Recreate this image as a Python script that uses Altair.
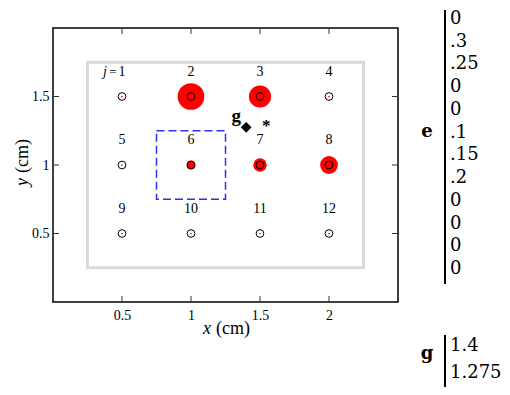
import altair as alt
import pandas as pd

# ---- data ----
x_pos = [0.5, 1, 1.5, 2, 0.5, 1, 1.5, 2, 0.5, 1, 1.5, 2]
y_pos = [1.5, 1.5, 1.5, 1.5, 1, 1, 1, 1, 0.5, 0.5, 0.5, 0.5]
j_ids = list(range(1, 13))
e_vals = [0, 0.3, 0.25, 0, 0, 0.1, 0.15, 0.2, 0, 0, 0, 0]
e_text = ["0", ".3", ".25", "0", "0", ".1", ".15", ".2", "0", "0", "0", "0"]
g_vals = [1.4, 1.275]
g_text = ["1.4", "1.275"]
x_ticks = [0.5, 1, 1.5, 2]
y_ticks = [0.5, 1, 1.5]
gray_box = [0.25, 2.25, 0.25, 1.75]
blue_box = [0.75, 1.25, 0.75, 1.25]

W, H = 345, 274
SERIF = "Liberation Serif"
TSERIF = "DejaVu Serif"

xs = alt.Scale(domain=[0, 2.5], nice=False, zero=False)
ys = alt.Scale(domain=[0, 2], nice=False, zero=False)
xaxis = alt.Axis(values=x_ticks, format="~g", title=None, grid=False, ticks=False,
                 tickSize=0, domain=False, labelPadding=6,
                 labelFont=SERIF, labelFontSize=14, labelColor="black")
yaxis = alt.Axis(values=y_ticks, format="~g", title=None, grid=False, ticks=False,
                 tickSize=0, domain=False, labelPadding=4,
                 labelFont=SERIF, labelFontSize=14, labelColor="black")


def xenc(f):
    return alt.X(f, type="quantitative", scale=xs, axis=xaxis)


def yenc(f):
    return alt.Y(f, type="quantitative", scale=ys, axis=yaxis)


pts = pd.DataFrame({"x": x_pos, "y": y_pos, "j": j_ids, "e": e_vals})


def box_df(b):
    return pd.DataFrame({"x1": [b[0]], "x2": [b[1]], "y1": [b[2]], "y2": [b[3]]})


gray = alt.Chart(box_df(gray_box)).mark_rect(fill="transparent", stroke="#dadada", strokeWidth=3).encode(
    x=xenc("x1"), x2="x2", y=yenc("y1"), y2="y2")
blue = alt.Chart(box_df(blue_box)).mark_rect(fill="transparent", stroke="#2f2ff0", strokeWidth=1.5,
                                             strokeDash=[8, 4]).encode(
    x=xenc("x1"), x2="x2", y=yenc("y1"), y2="y2")

red = alt.Chart(pts).transform_calculate(e2="datum.e*datum.e").mark_circle(color="red", opacity=1).encode(
    x=xenc("x"), y=yenc("y"),
    size=alt.Size("e2:Q", scale=alt.Scale(domain=[0, 0.09], range=[3, 710]), legend=None))
ring = alt.Chart(pts).mark_point(shape="circle", filled=False, color="black", strokeWidth=1, size=60,
                                 opacity=1).encode(x=xenc("x"), y=yenc("y"))
nums = alt.Chart(pts).mark_text(dy=-25, font=SERIF, fontSize=14, color="black").encode(
    x=xenc("x"), y=yenc("y"), text="j:N")
jlab = alt.Chart(pts.iloc[[0]]).mark_text(dx=-17, dy=-25, font=SERIF, fontSize=14, fontStyle="italic",
                                          color="black").encode(x=xenc("x"), y=yenc("y"), text=alt.value("j"))
eqlab = alt.Chart(pts.iloc[[0]]).mark_text(dx=-9, dy=-25, font=SERIF, fontSize=13, color="black").encode(
    x=xenc("x"), y=yenc("y"), text=alt.value("="))

gdf = pd.DataFrame({"gx": [g_vals[0]], "gy": [g_vals[1]]})
gpt = alt.Chart(gdf).mark_point(shape="diamond", filled=True, color="black", size=115, opacity=1).encode(
    x=xenc("gx"), y=yenc("gy"))
glab = alt.Chart(gdf).mark_text(dx=-10, dy=-11, font=SERIF, fontSize=19, fontWeight="bold",
                                color="black").encode(x=xenc("gx"), y=yenc("gy"), text=alt.value("g"))
star = alt.Chart(gdf).mark_text(dx=20, dy=-1, font=SERIF, fontSize=17, fontWeight="bold",
                                color="black").encode(x=xenc("gx"), y=yenc("gy"), text=alt.value("*"))

xt = pd.DataFrame({"t": x_ticks})
yt = pd.DataFrame({"t": y_ticks})
tb = alt.Chart(xt).mark_rule(color="#333", strokeWidth=1).encode(x=xenc("t"), y=alt.value(H), y2=alt.value(H - 6))
tt = alt.Chart(xt).mark_rule(color="#333", strokeWidth=1).encode(x=xenc("t"), y=alt.value(0), y2=alt.value(6))
tl = alt.Chart(yt).mark_rule(color="#333", strokeWidth=1).encode(y=yenc("t"), x=alt.value(0), x2=alt.value(6))
tr = alt.Chart(yt).mark_rule(color="#333", strokeWidth=1).encode(y=yenc("t"), x=alt.value(W), x2=alt.value(W - 6))

# axis titles (italic variable + roman unit)
one = pd.DataFrame({"k": [0]})
xt_var = alt.Chart(one).mark_text(align="left", baseline="alphabetic", font=SERIF, fontSize=18,
                                  fontStyle="italic", color="black").encode(
    x=alt.value(150), y=alt.value(306), text=alt.value("x"))
xt_unit = alt.Chart(one).mark_text(align="left", baseline="alphabetic", font=SERIF, fontSize=18,
                                   color="black").encode(
    x=alt.value(163), y=alt.value(306), text=alt.value("(cm)"))
yt_var = alt.Chart(one).mark_text(align="left", baseline="alphabetic", font=SERIF, fontSize=18, angle=270,
                                  fontStyle="italic", color="black").encode(
    x=alt.value(-25), y=alt.value(158), text=alt.value("y"))
yt_unit = alt.Chart(one).mark_text(align="left", baseline="alphabetic", font=SERIF, fontSize=18, angle=270,
                                   color="black").encode(
    x=alt.value(-25), y=alt.value(145), text=alt.value("(cm)"))

main = alt.layer(gray, blue, red, ring, nums, jlab, eqlab, gpt, glab, star, tb, tt, tl, tr,
                 xt_var, xt_unit, yt_var, yt_unit)

# ---- side tables ----
FS = 18
edf = pd.DataFrame({"row": list(range(len(e_vals))), "txt": e_text})
e_vals_txt = alt.Chart(edf).mark_text(align="left", baseline="middle", font=TSERIF, fontSize=FS,
                                      color="black").encode(
    x=alt.value(397),
    y=alt.Y("row:Q", scale=alt.Scale(domain=[0, 11], range=[-9, 241]), axis=None),
    text="txt:N")
e_line = alt.Chart(edf.iloc[[0]]).mark_rule(color="black", strokeWidth=2).encode(
    x=alt.value(392), y=alt.value(-18), y2=alt.value(256))
e_letter = alt.Chart(edf.iloc[[0]]).mark_text(font=TSERIF, fontSize=FS, fontWeight="bold", color="black",
                                              baseline="middle").encode(
    x=alt.value(374), y=alt.value(104), text=alt.value("e"))
etable = alt.layer(e_line, e_letter, e_vals_txt)

gtdf = pd.DataFrame({"row": list(range(len(g_vals))), "txt": g_text})
g_vals_txt = alt.Chart(gtdf).mark_text(align="left", baseline="middle", font=TSERIF, fontSize=FS,
                                       color="black").encode(
    x=alt.value(397),
    y=alt.Y("row:Q", scale=alt.Scale(domain=[0, 1], range=[318, 345]), axis=None),
    text="txt:N")
g_line = alt.Chart(gtdf.iloc[[0]]).mark_rule(color="black", strokeWidth=2).encode(
    x=alt.value(392), y=alt.value(307), y2=alt.value(364))
g_letter = alt.Chart(gtdf.iloc[[0]]).mark_text(font=TSERIF, fontSize=FS, fontWeight="bold", color="black",
                                               baseline="middle").encode(
    x=alt.value(374), y=alt.value(326), text=alt.value("g"))
gtable = alt.layer(g_line, g_letter, g_vals_txt)

chart = alt.layer(main, etable, gtable).resolve_scale(y="independent").properties(
    width=W, height=H,
    autosize=alt.AutoSizeParams(type="none"),
    padding={"left": 45, "top": 20, "right": 494 - 45 - W, "bottom": 379 - 20 - H},
).configure_view(stroke="black", strokeWidth=1.5)

chart.save("out.html", embed_options={"renderer": "svg", "actions": False})
